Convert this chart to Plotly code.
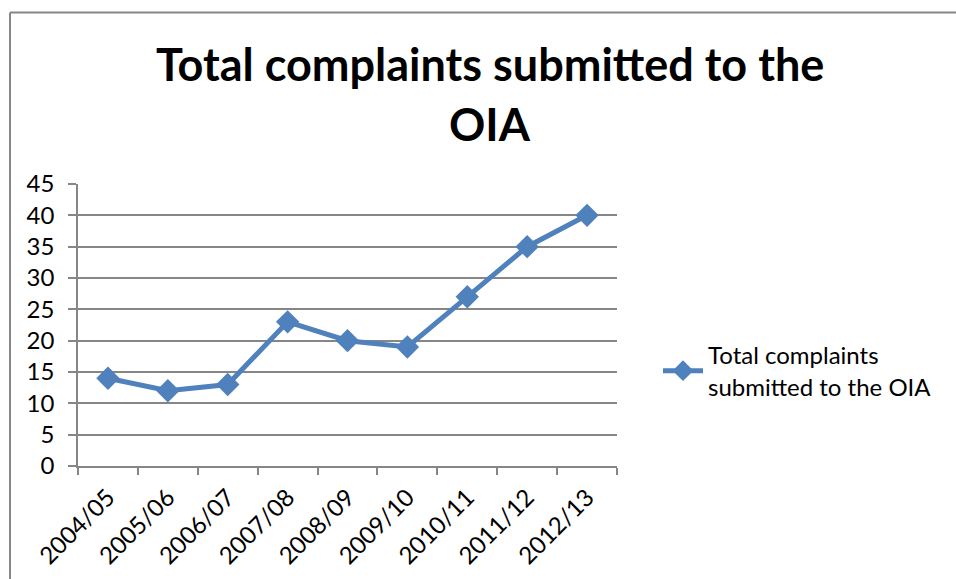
import plotly.graph_objects as go

categories = ["2004/05", "2005/06", "2006/07", "2007/08", "2008/09",
              "2009/10", "2010/11", "2011/12", "2012/13"]
complaints = [14, 12, 13, 23, 20, 19, 27, 35, 40]
series_name = "Total complaints<br>submitted to the OIA"
y_ticks = [0, 5, 10, 15, 20, 25, 30, 35, 40, 45]

W, H = 956, 579
PL, PR, PT, PB = 78, 617, 184, 466  # plot area in page pixels
L, R, T, B = PL, W - PR, PT, H - PB
pw, ph = W - L - R, H - T - B

def px(x):
    return (x - L) / pw

def py(y):
    return (H - B - y) / ph

FONT = "Lato"
GRID = "#868686"

fig = go.Figure()
fig.add_trace(go.Scatter(
    x=categories, y=complaints, mode="lines+markers", name=series_name,
    line=dict(color="#4F81BD", width=5),
    marker=dict(symbol="diamond", size=18, color="#4F81BD"),
))

fig.update_layout(
    width=W, height=H,
    margin=dict(l=L, r=R, t=T, b=B, autoexpand=False),
    paper_bgcolor="white", plot_bgcolor="white",
    font=dict(family=FONT, color="black"),
    showlegend=True,
    legend=dict(x=px(658), y=py(371), xanchor="left", yanchor="middle",
                font=dict(size=24, family=FONT, color="black"),
                bgcolor="rgba(0,0,0,0)", itemwidth=40),
    xaxis=dict(type="category", showgrid=False, showline=True, linecolor=GRID,
               linewidth=1.5, ticks="outside", tickson="boundaries", ticklen=7,
               tickcolor=GRID, tickwidth=1.5, tickangle=-45,
               ticklabelstandoff=6,
               tickfont=dict(size=24, family=FONT, color="black"),
               range=[-0.5, 8.5]),
    yaxis=dict(range=[0, 45], tickvals=y_ticks, showgrid=True, gridcolor=GRID,
               gridwidth=1.5, showline=True, linecolor=GRID, linewidth=1.5,
               ticks="outside", ticklen=8, tickcolor=GRID, tickwidth=1.5,
               ticklabelstandoff=9,
               zeroline=False, tickfont=dict(size=24, family=FONT, color="black")),
    shapes=[
        dict(type="line", xref="paper", yref="paper",
             x0=px(10), x1=px(1100), y0=py(12.5), y1=py(12.5),
             line=dict(color=GRID, width=2), layer="below"),
        dict(type="line", xref="paper", yref="paper",
             x0=px(10), x1=px(10), y0=py(12.5), y1=py(700),
             line=dict(color=GRID, width=2), layer="below"),
    ],
    annotations=[
        dict(text="<b>Total complaints submitted to the</b>", xref="paper", yref="paper",
             x=px(490), y=py(64), xanchor="center", yanchor="middle", showarrow=False,
             font=dict(size=45, family=FONT, color="black")),
        dict(text="<b>OIA</b>", xref="paper", yref="paper",
             x=px(490), y=py(124), xanchor="center", yanchor="middle", showarrow=False,
             font=dict(size=45, family=FONT, color="black")),
    ],
)

fig.write_html(
    "out.html",
    config={"displayModeBar": False},
    post_script=("document.body.style.margin='0';"
                 "document.body.style.overflow='hidden';"
                 "document.documentElement.style.overflow='hidden';"),
)
